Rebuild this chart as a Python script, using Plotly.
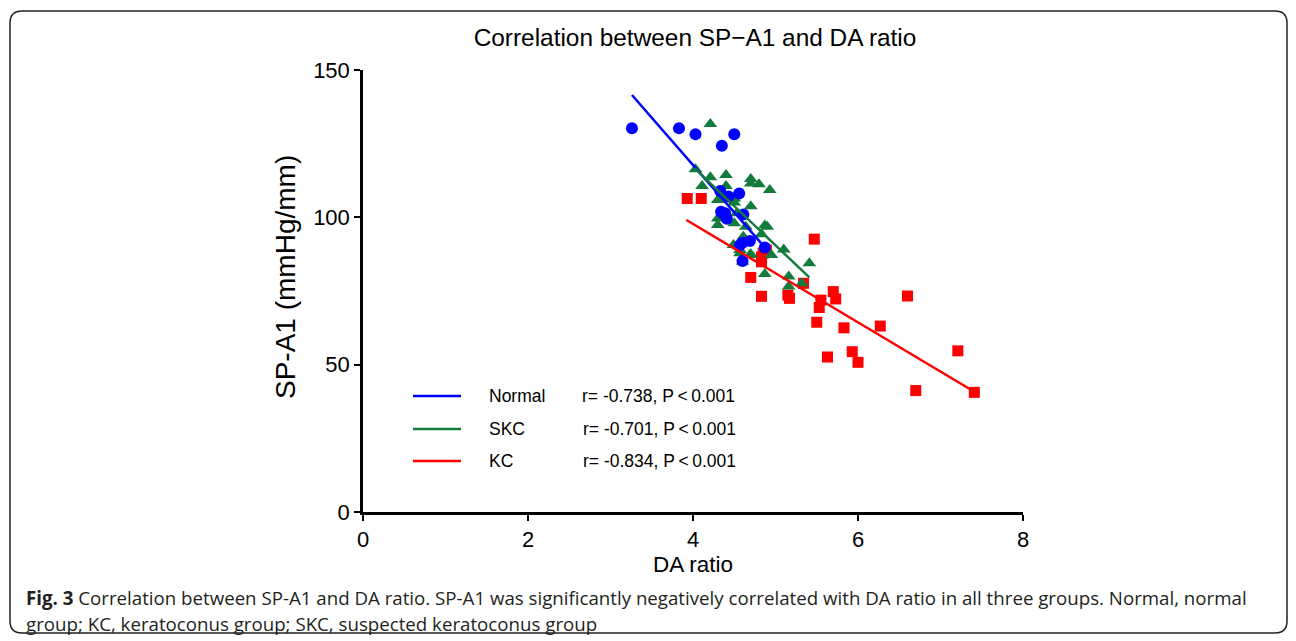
import plotly.graph_objects as go

# ---------------- data ----------------
normal_x = [3.26, 3.83, 4.03, 4.50, 4.35, 4.33, 4.43, 4.56, 4.34, 4.39, 4.41, 4.61, 4.37,
            4.60, 4.69, 4.57, 4.87, 4.60]
normal_y = [130.2, 130.2, 128.2, 128.2, 124.3, 108.9, 107.1, 108.1, 101.9, 101.4, 99.5, 101.0, 101.1,
            91.4, 92.0, 90.6, 89.8, 85.2]

skc_x = [4.21, 4.03, 4.21, 4.40, 4.11, 4.40, 4.70, 4.80, 4.93, 4.70, 4.30, 4.50, 4.50, 4.70,
         4.53, 4.30, 4.30, 4.50, 4.64, 4.87, 4.90, 4.83, 4.61, 4.49, 4.57, 4.69, 4.60, 4.95,
         4.87, 5.10, 5.41, 5.16, 5.16, 5.32, 4.57, 4.70]
skc_y = [131.7, 116.3, 113.6, 114.4, 110.6, 110.6, 113.0, 111.2, 109.3, 111.5, 105.9, 106.4, 105.0, 103.8,
         101.4, 99.6, 97.4, 98.0, 96.8, 97.2, 96.8, 94.3, 93.4, 90.6, 88.9, 87.2, 84.9, 87.2,
         80.8, 89.1, 84.4, 79.9, 76.5, 77.6, 87.8, 87.5]

kc_x = [3.93, 4.10, 4.70, 4.83, 4.83, 4.85, 4.89, 4.83, 5.15, 5.17, 5.34, 5.47, 5.50, 5.53,
        5.55, 5.63, 5.70, 5.73, 5.83, 5.93, 6.00, 6.27, 6.60, 6.70, 7.21, 7.41]
kc_y = [106.4, 106.4, 79.6, 73.2, 84.9, 87.8, 88.9, 86.5, 73.6, 72.5, 77.6, 92.6, 64.4, 69.4,
        71.9, 52.6, 74.8, 72.3, 62.5, 54.4, 50.8, 63.1, 73.3, 41.2, 54.7, 40.6]

# regression lines (end points)
normal_fit_x = [3.26, 4.87]
normal_fit_y = [141.5, 89.8]
skc_fit_x = [4.02, 5.41]
skc_fit_y = [116.6, 79.6]
kc_fit_x = [3.92, 7.41]
kc_fit_y = [99.1, 40.8]

group_names = ["Normal", "SKC", "KC"]
group_stats = ["r= -0.738, P\u2009<\u20090.001", "r= -0.701, P\u2009<\u20090.001", "r= -0.834, P\u2009<\u20090.001"]

x_ticks = [0, 2, 4, 6, 8]
y_ticks = [0, 50, 100, 150]

# ---------------- styles ----------------
BLUE = "#0000FF"
GREEN = "#137B3C"
RED = "#FF0000"
colors = [BLUE, GREEN, RED]
FONT = "Liberation Sans, Arial, sans-serif"

OFF = 8  # page body margin
W, H = 1296 - OFF, 641 - OFF
# plot area in reference (screen) pixels
PX0, PX1, PY0, PY1 = 363, 1023, 70, 512
L, T = PX0 - OFF, PY0 - OFF
R = W - (PX1 - OFF)
B = H - (PY1 - OFF)
PW, PH = PX1 - PX0, PY1 - PY0


def px(x):
    """reference screen x -> paper"""
    return (x - PX0) / PW


def py(y):
    """reference screen y -> paper"""
    return (PY1 - y) / PH


fig = go.Figure()

fig.add_trace(go.Scatter(x=kc_x, y=kc_y, mode="markers",
                         marker=dict(symbol="square", size=11, color=RED), showlegend=False))
fig.add_trace(go.Scatter(x=skc_x, y=skc_y, mode="markers",
                         marker=dict(symbol="triangle-up", size=12, color=GREEN), showlegend=False))
fig.add_trace(go.Scatter(x=normal_x, y=normal_y, mode="markers",
                         marker=dict(symbol="circle", size=12, color=BLUE), showlegend=False))

fig.add_trace(go.Scatter(x=kc_fit_x, y=kc_fit_y, mode="lines",
                         line=dict(color=RED, width=2.5), showlegend=False))
fig.add_trace(go.Scatter(x=normal_fit_x, y=normal_fit_y, mode="lines",
                         line=dict(color=BLUE, width=2.5), showlegend=False))
fig.add_trace(go.Scatter(x=skc_fit_x, y=skc_fit_y, mode="lines",
                         line=dict(color=GREEN, width=2.5), showlegend=False))

shapes = []
annotations = []

# custom legend
leg_rows = [396, 429, 461]
for i, yy in enumerate(leg_rows):
    shapes.append(dict(type="line", xref="paper", yref="paper",
                       x0=px(413), x1=px(461), y0=py(yy), y1=py(yy),
                       line=dict(color=colors[i], width=2.5)))
    annotations.append(dict(xref="paper", yref="paper", x=px(487), y=py(yy),
                            xanchor="left", yanchor="middle", showarrow=False,
                            text=group_names[i], font=dict(family=FONT, size=17.5, color="black")))
    annotations.append(dict(xref="paper", yref="paper", x=px(580 if i == 0 else 581), y=py(yy),
                            xanchor="left", yanchor="middle", showarrow=False,
                            text=group_stats[i], font=dict(family=FONT, size=17.5, color="black")))

# y axis title
annotations.append(dict(xref="paper", yref="paper", x=px(285), y=py(277),
                        xanchor="center", yanchor="middle", showarrow=False, textangle=-90,
                        text="SP-A1 (mmHg/mm)", font=dict(family=FONT, size=28, color="black")))

# caption
CAP_FONT = "Open Sans, sans-serif"
annotations.append(dict(xref="paper", yref="paper", x=px(24), y=py(597),
                        xanchor="left", yanchor="middle", showarrow=False,
                        text="<b>Fig. 3</b> Correlation between SP-A1 and DA ratio. SP-A1 was significantly negatively correlated with DA ratio in all three groups. Normal, normal",
                        font=dict(family=CAP_FONT, size=18.7, color="#231F20")))
annotations.append(dict(xref="paper", yref="paper", x=px(24), y=py(623),
                        xanchor="left", yanchor="middle", showarrow=False,
                        text="group; KC, keratoconus group; SKC, suspected keratoconus group",
                        font=dict(family=CAP_FONT, size=18.7, color="#231F20")))

# rounded border around the figure
x0b, y0b, x1b, y1b, rr = 10, 11, 1287, 633, 12
path = (f"M {px(x0b + rr)} {py(y0b)} L {px(x1b - rr)} {py(y0b)} "
        f"Q {px(x1b)} {py(y0b)} {px(x1b)} {py(y0b + rr)} "
        f"L {px(x1b)} {py(y1b - rr)} Q {px(x1b)} {py(y1b)} {px(x1b - rr)} {py(y1b)} "
        f"L {px(x0b + rr)} {py(y1b)} Q {px(x0b)} {py(y1b)} {px(x0b)} {py(y1b - rr)} "
        f"L {px(x0b)} {py(y0b + rr)} Q {px(x0b)} {py(y0b)} {px(x0b + rr)} {py(y0b)} Z")
shapes.append(dict(type="path", xref="paper", yref="paper", path=path,
                   line=dict(color="#231F20", width=1.5), layer="below"))

fig.update_layout(
    width=W, height=H,
    margin=dict(l=L, r=R, t=T, b=B),
    paper_bgcolor="white", plot_bgcolor="white",
    title=dict(text="Correlation between SP\u2212A1 and DA ratio", x=(695 - OFF) / W, xanchor="center",
               y=1 - (37 - OFF) / H, yanchor="middle",
               font=dict(family=FONT, size=24.4, color="black")),
    xaxis=dict(range=[0, 8], tickvals=x_ticks, ticktext=[str(v) for v in x_ticks],
               showgrid=False, zeroline=False, showline=True, linecolor="black", linewidth=2.5,
               ticks="outside", ticklen=6, tickwidth=2, tickcolor="black",
               tickfont=dict(family=FONT, size=22, color="black"),
               title=dict(text="DA ratio", font=dict(family=FONT, size=22.5, color="black"), standoff=4)),
    yaxis=dict(range=[0, 150], tickvals=y_ticks, ticktext=[str(v) for v in y_ticks],
               showgrid=False, zeroline=False, showline=True, linecolor="black", linewidth=2.5,
               ticks="outside", ticklen=6, tickwidth=2, tickcolor="black",
               tickfont=dict(family=FONT, size=22, color="black")),
    shapes=shapes,
    annotations=annotations,
)

fig.write_html("out.html")
